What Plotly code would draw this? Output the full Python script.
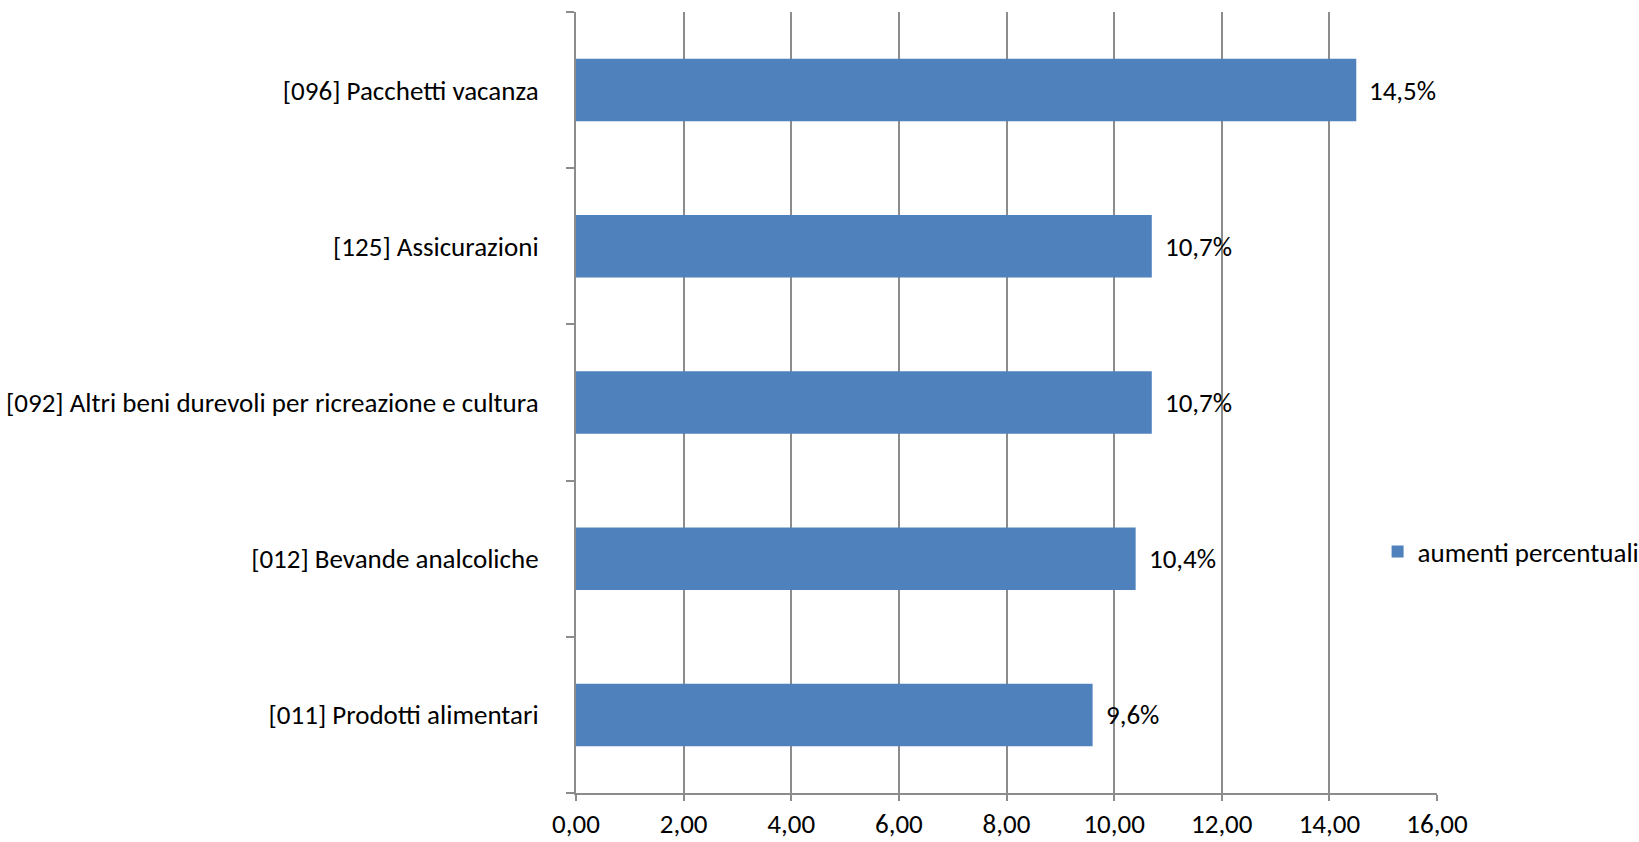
import plotly.graph_objects as go

categories = [
    "[011] Prodotti alimentari",
    "[012] Bevande analcoliche",
    "[092] Altri beni durevoli per ricreazione e cultura",
    "[125] Assicurazioni",
    "[096] Pacchetti vacanza",
]
values = [9.6, 10.4, 10.7, 10.7, 14.5]
labels = ["9,6%", "10,4%", "10,7%", "10,7%", "14,5%"]
series_name = "aumenti percentuali"
x_ticks = [0, 2, 4, 6, 8, 10, 12, 14, 16]

FONT = "Carlito, Lato, 'Liberation Sans', sans-serif"
FS = 27
GRID = "#8c8c8c"

fig = go.Figure()
fig.add_trace(go.Bar(
    y=categories,
    x=values,
    orientation="h",
    name=series_name,
    marker=dict(color="#4F81BD", line=dict(width=0)),
    showlegend=True,
    hoverinfo="skip",
))

for c, v, t in zip(categories, values, labels):
    fig.add_annotation(
        x=v, y=c, xref="x", yref="y", text=t, showarrow=False,
        xanchor="left", yanchor="middle", xshift=11,
        font=dict(family=FONT, size=FS, color="black"),
    )

fig.update_layout(
    width=1639, height=842,
    margin=dict(l=576, r=202, t=12, b=49, pad=0, autoexpand=False),
    paper_bgcolor="white", plot_bgcolor="white",
    separators=",.",
    bargap=0.6,
    font=dict(family=FONT, size=FS, color="black"),
    legend=dict(
        x=0.931, y=0.3086, xanchor="left", yanchor="middle",
        bgcolor="rgba(0,0,0,0)", itemwidth=30,
        font=dict(family=FONT, size=FS, color="black"),
    ),
    xaxis=dict(
        range=[0, 16], tickvals=x_ticks, tickformat=".2f",
        showgrid=True, gridcolor=GRID, gridwidth=2,
        showline=True, linecolor=GRID, linewidth=2,
        ticks="outside", ticklen=6, tickcolor=GRID, tickwidth=2,
        ticklabelstandoff=0, automargin=False,
        zeroline=False, fixedrange=True,
        tickfont=dict(family=FONT, size=FS, color="black"),
    ),
    yaxis=dict(
        type="category", categoryorder="array", categoryarray=categories,
        showgrid=False, showline=True, linecolor=GRID, linewidth=2,
        ticks="outside", tickson="boundaries", ticklen=8, tickcolor=GRID, tickwidth=2,
        ticklabelstandoff=30, automargin=False,
        zeroline=False, fixedrange=True,
        tickfont=dict(family=FONT, size=FS, color="black"),
    ),
)

fig.write_html(
    "out.html",
    config={"displayModeBar": False, "staticPlot": True},
    post_script="document.body.style.margin='0';document.body.style.overflow='hidden';",
)
